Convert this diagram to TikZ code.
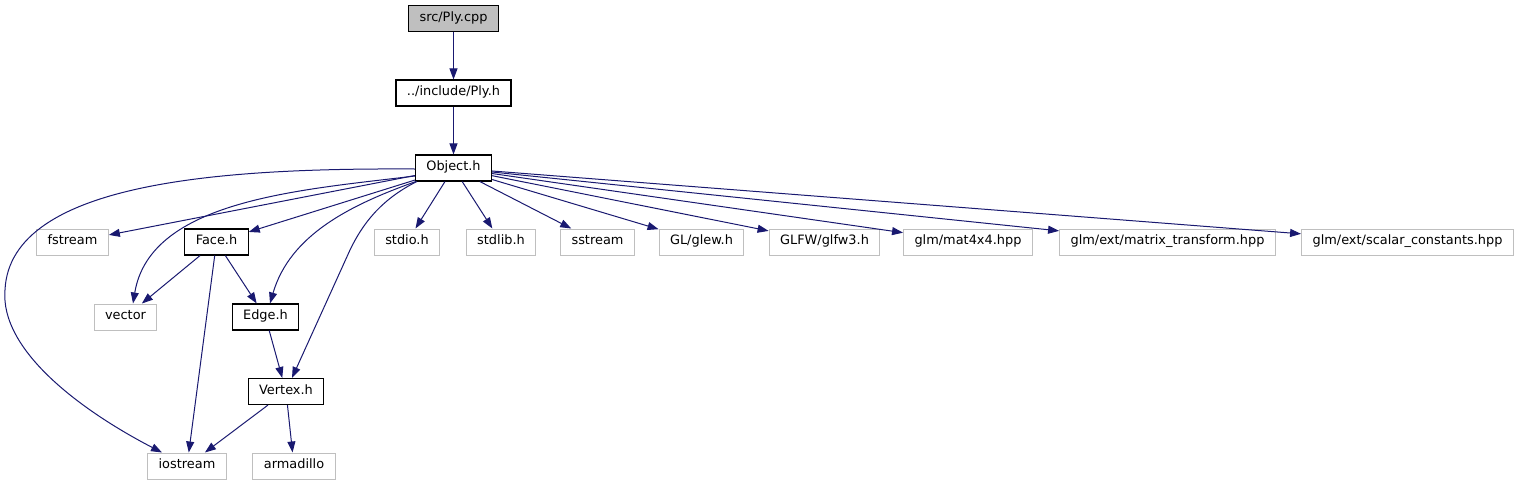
\documentclass[tikz,border=0pt]{standalone}
\usepackage{fontspec}
\setmainfont{DejaVu Sans}
\usetikzlibrary{arrows.meta,positioning}
\definecolor{edgeblue}{HTML}{191970}
\definecolor{extgray}{HTML}{BFBFBF}

\begin{document}
\begin{tikzpicture}[
  x=1pt, y=-1pt,
  filebox/.style={rectangle, line width=1pt, minimum height=26pt, inner xsep=11pt, inner ysep=0pt,
    text height=0.75em, text depth=0.25em, font=\fontsize{12.9}{15}\selectfont},
  docfile/.style={filebox, draw=black, line width=1.1pt},
  extfile/.style={filebox, draw=extgray},
  rootfile/.style={filebox, draw=black, line width=1.1pt, fill=extgray},
  dep/.style={-{Triangle[length=11pt,width=8pt]}, draw=edgeblue, line width=1pt}
]
  \useasboundingbox (0,0) rectangle (1519,485);

  \node[rootfile] (ply)       at (453.5,18.5) {src/Ply.cpp};
  \node[docfile]  (plyh)      at (453.5,93)   {../include/Ply.h};
  \node[docfile]  (object)    at (453.5,168)  {Object.h};
  \node[extfile]  (fstream)   at (72.5,242)   {fstream};
  \node[docfile]  (face)      at (216.5,242)  {Face.h};
  \node[extfile]  (stdio)     at (407,242)    {stdio.h};
  \node[extfile]  (stdlib)    at (501,242)    {stdlib.h};
  \node[extfile]  (sstream)   at (597.5,242)  {sstream};
  \node[extfile]  (glew)      at (701.5,242)  {GL/glew.h};
  \node[extfile]  (glfw)      at (824.5,242)  {GLFW/glfw3.h};
  \node[extfile]  (mat4x4)    at (968,242)    {glm/mat4x4.hpp};
  \node[extfile]  (mattrans)  at (1167.5,242) {glm/ext/matrix\_transform.hpp};
  \node[extfile]  (scalconst) at (1407.5,242) {glm/ext/scalar\_constants.hpp};
  \node[extfile]  (vector)    at (125.5,317)  {vector};
  \node[docfile]  (edge)      at (265.5,317)  {Edge.h};
  \node[docfile]  (vertex)    at (286,391.5)  {Vertex.h};
  \node[extfile]  (iostream)  at (187,466)    {iostream};
  \node[extfile]  (armadillo) at (294,466)    {armadillo};

  % Straight includes
  \draw[dep] (ply) -- (plyh);
  \draw[dep] (plyh) -- (object);
  \draw[dep] (object) -- (fstream);
  \draw[dep] (object) -- (face);
  \draw[dep] (object) -- (stdio);
  \draw[dep] (object) -- (stdlib);
  \draw[dep] (object) -- (sstream);
  \draw[dep] (object) -- (glew);
  \draw[dep] (object) -- (glfw);
  \draw[dep] (object) -- (mat4x4);
  \draw[dep] (object) -- (mattrans);
  \draw[dep] (object) -- (scalconst);
  \draw[dep] (face) -- (vector);
  \draw[dep] (face) -- (iostream);
  \draw[dep] (face) -- (edge);
  \draw[dep] (edge) -- (vertex);
  \draw[dep] (vertex) -- (iostream);
  \draw[dep] (vertex) -- (armadillo);

  % Curved includes from Object.h
  \draw[dep] ([yshift=-1pt]object.west) .. controls (230,168) and (10,180) .. (5,290)
    .. controls (0,350) and (80,410) .. ([xshift=-25pt]iostream.north);
  \draw[dep] ([yshift=-8pt]object.west) .. controls (300,190) and (150,200) .. ([xshift=7.5pt]vector.north);
  \draw[dep] ([xshift=1pt]object.south west) .. controls (350,205) and (290,235) .. ([xshift=4.5pt]edge.north);
  \draw[dep] ([xshift=2pt]object.south west) .. controls (380,200) and (362,225) .. (350,250)
    -- ([xshift=6pt]vertex.north);
\end{tikzpicture}
\end{document}
